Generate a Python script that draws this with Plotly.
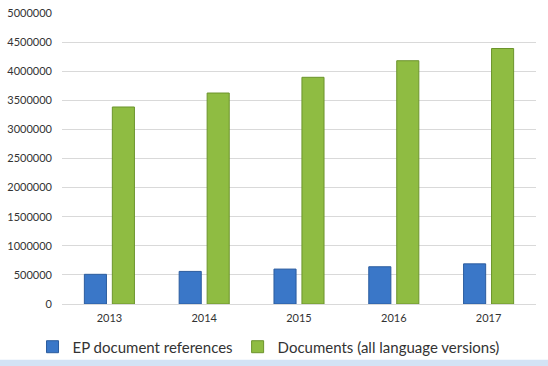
import plotly.graph_objects as go

years = ["2013", "2014", "2015", "2016", "2017"]
ep_refs = [510000, 560000, 600000, 640000, 690000]
documents = [3385000, 3625000, 3895000, 4180000, 4390000]
y_ticks = list(range(0, 5000001, 500000))

fig = go.Figure()
fig.add_trace(go.Bar(
    x=years, y=ep_refs, name="EP document references",
    marker=dict(color="#3a77c8", line=dict(color="#2b5c9e", width=1)),
))
fig.add_trace(go.Bar(
    x=years, y=documents, name="Documents (all language versions)",
    marker=dict(color="#8fbc42", line=dict(color="#6c942c", width=1)),
))

fig.update_layout(
    width=548, height=366,
    margin=dict(l=62, r=12, t=13, b=62, autoexpand=False),
    paper_bgcolor="white", plot_bgcolor="white",
    barmode="group", bargap=0.41, bargroupgap=0.21,
    font=dict(family="Lato, 'Open Sans', sans-serif", color="#333333"),
    showlegend=True,
    legend=dict(
        orientation="h", xref="container", yref="container",
        x=0.49, xanchor="center", y=0.052, yanchor="middle",
        font=dict(size=15, color="#333333"),
        bgcolor="rgba(0,0,0,0)",
        itemwidth=30, traceorder="normal",
    ),
    shapes=[dict(type="rect", xref="paper", yref="paper",
                 x0=-0.2, x1=1.1, y0=-0.215, y1=-0.192,
                 fillcolor="#d3e3f5", line=dict(width=0), layer="below")],
)
fig.update_xaxes(
    showgrid=False, showline=True, linecolor="#d9d9d9", automargin=False,
    tickfont=dict(size=11, color="#333333"), ticks="", ticklabelstandoff=4,
)
fig.update_yaxes(
    range=[0, 5000000], tickvals=y_ticks, ticktext=[str(v) for v in y_ticks],
    showgrid=True, gridcolor="#d9d9d9", zeroline=False, automargin=False,
    tickfont=dict(size=11, color="#333333"), ticks="", ticklabelstandoff=9,
)

fig.write_html("out.html", config={"displayModeBar": False},
               post_script="document.body.style.margin='0';")
